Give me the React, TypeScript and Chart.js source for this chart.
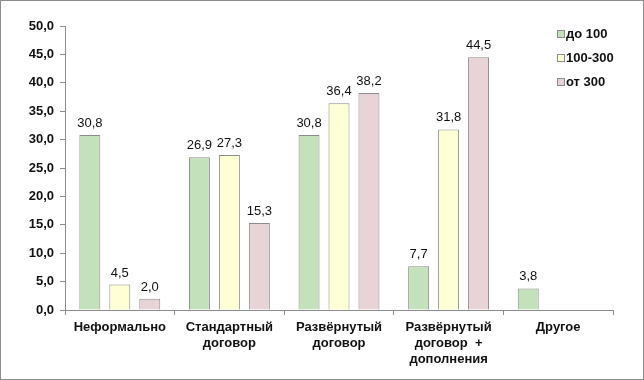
import React, { useEffect, useRef } from "react";
import { Chart, registerables } from "chart.js";

Chart.register(...registerables);

const categories: (string | string[])[] = [
  "Неформально",
  ["Стандартный", "договор"],
  ["Развёрнутый", "договор"],
  ["Развёрнутый", "договор  +", "дополнения"],
  "Другое",
];
const seriesNames = ["до 100", "100-300", "от 300"];
const upTo100 = [30.8, 26.9, 30.8, 7.7, 3.8];
const from100to300 = [4.5, 27.3, 36.4, 31.8, null];
const over300 = [2.0, 15.3, 38.2, 44.5, null];
const fills = ["#c3e2bc", "#ffffd6", "#e8d3d6"];
const edge = "#8c8c8c";

const fmt = (v: number) => v.toFixed(1).replace(".", ",");

const labelsPlugin = {
  id: "valLabels",
  afterDatasetsDraw(chart: any) {
    const ctx = chart.ctx;
    ctx.save();
    ctx.font = "13px Arial, 'Liberation Sans'";
    ctx.fillStyle = "#111";
    ctx.textAlign = "center";
    ctx.textBaseline = "bottom";
    chart.data.datasets.forEach((ds: any, i: number) => {
      const meta = chart.getDatasetMeta(i);
      meta.data.forEach((bar: any, j: number) => {
        const v = ds.data[j];
        if (v == null) return;
        ctx.fillText(fmt(v), bar.x, bar.y - 5);
      });
    });
    ctx.restore();
  },
};

const frameLegendPlugin = {
  id: "frameLegend",
  beforeDraw(chart: any) {
    const ctx = chart.ctx;
    ctx.save();
    ctx.fillStyle = "#fff";
    ctx.fillRect(0, 0, chart.width, chart.height);
    ctx.strokeStyle = "#8c8c8c";
    ctx.lineWidth = 1;
    ctx.strokeRect(0.5, 0.5, chart.width - 1, chart.height - 1);
    ctx.restore();
  },
  afterDraw(chart: any) {
    const ctx = chart.ctx;
    ctx.save();
    ctx.font = "bold 13px Arial, 'Liberation Sans'";
    ctx.textBaseline = "middle";
    ctx.textAlign = "left";
    seriesNames.forEach((name, i) => {
      const cy = 34 + i * 24;
      ctx.fillStyle = fills[i];
      ctx.fillRect(557.5, cy - 3.5, 7, 7);
      ctx.strokeStyle = edge;
      ctx.strokeRect(557.5, cy - 3.5, 7, 7);
      ctx.fillStyle = "#111";
      ctx.fillText(name, 566, cy + 0.5);
    });
    ctx.restore();
  },
};

export default function App() {
  const ref = useRef<HTMLCanvasElement>(null);
  useEffect(() => {
    document.body.style.margin = "0";
    const seriesData = [upTo100, from100to300, over300];
    const chart = new Chart(ref.current!, {
      type: "bar",
      data: {
        labels: categories,
        datasets: seriesNames.map((n, i) => ({
          label: n,
          data: seriesData[i],
          backgroundColor: fills[i],
          borderColor: edge,
          borderWidth: 1,
          categoryPercentage: 0.82,
          barPercentage: 0.7,
        })),
      },
      options: {
        animation: false,
        responsive: false,
        devicePixelRatio: 1,
        layout: { padding: { top: 26, right: 31, left: 0, bottom: 0 } },
        plugins: { legend: { display: false }, tooltip: { enabled: false } },
        scales: {
          x: {
            grid: {
              display: true,
              drawOnChartArea: false,
              drawTicks: true,
              tickLength: 5,
              color: edge,
              offset: true,
            },
            border: { display: true, color: edge },
            ticks: {
              color: "#111",
              font: { family: "Arial, 'Liberation Sans'", size: 13, weight: "bold", lineHeight: 1.2 },
              maxRotation: 0,
              autoSkip: false,
              padding: 5,
            },
            afterFit: (s: any) => {
              s.height = 70;
            },
          },
          y: {
            min: 0,
            max: 50,
            ticks: {
              stepSize: 5,
              color: "#111",
              font: { family: "Arial, 'Liberation Sans'", size: 13, weight: "bold" },
              padding: 6,
              callback: (v: any) => fmt(Number(v)),
            },
            grid: {
              display: true,
              drawOnChartArea: false,
              drawTicks: true,
              tickLength: 5,
              color: edge,
            },
            border: { display: true, color: edge },
            afterFit: (s: any) => {
              s.width = 65;
            },
          },
        },
      },
      plugins: [labelsPlugin, frameLegendPlugin],
    });
    return () => chart.destroy();
  }, []);
  return (
    <div style={{ width: 644, height: 380 }}>
      <canvas ref={ref} width={644} height={380} />
    </div>
  );
}
